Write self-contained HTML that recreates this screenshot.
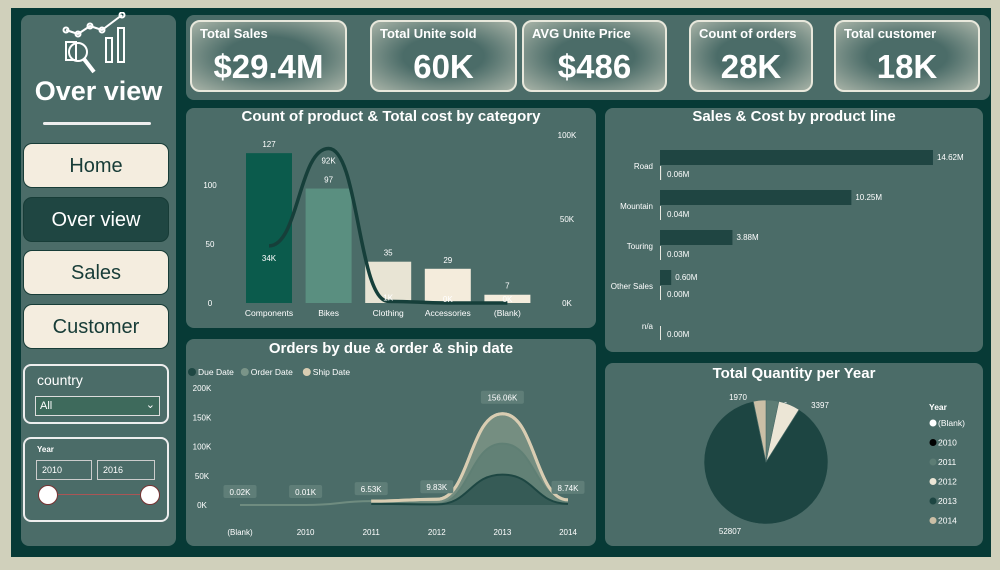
<!DOCTYPE html>
<html><head><meta charset="utf-8"><style>
*{box-sizing:border-box;margin:0;padding:0}
body{width:1000px;height:570px;background:#d0d0bb;font-family:"Liberation Sans",sans-serif;position:relative;overflow:hidden;color:#fff}
.abs{position:absolute}
.frame{left:11px;top:8px;width:980px;height:549px;background:#073a36}
.panel{background:#4b6c68;border-radius:8px}
.kpi{border:2px solid #e8e8dc;border-radius:10px;background:radial-gradient(ellipse at center,#4b6c68 40%,#a9b4a8 100%);}
.kpi .t{position:absolute;left:8px;top:4px;font-size:13px;font-weight:bold}
.kpi .v{position:absolute;left:0;right:0;top:26px;text-align:center;font-size:33px;font-weight:bold}
.btn{left:23px;width:146px;height:45px;border-radius:9px;background:#f4eddf;border:1px solid #173c37;color:#173c37;font-size:20px;text-align:center;line-height:44px}
.ttl{font-size:15px;font-weight:bold;text-align:center;position:absolute;left:0;right:0}
svg text{font-family:"Liberation Sans",sans-serif;fill:#fff}
</style></head><body>
<div class="abs frame"></div>
<div class="abs panel" style="left:21px;top:15px;width:155px;height:531px"></div>
<svg class="abs" style="left:60px;top:12px" width="72" height="68">
<g fill="none" stroke="#fff" stroke-width="2"><polyline points="6,18 18,22 30,14 42,18 62,3"/><circle cx="6" cy="18" r="2.5"/><circle cx="18" cy="22" r="2.5"/><circle cx="30" cy="14" r="2.5"/><circle cx="42" cy="18" r="2.5"/><circle cx="62" cy="3" r="2.5"/><rect x="6" y="30" width="10" height="18"/><rect x="46" y="26" width="6" height="24"/><rect x="58" y="16" width="6" height="34"/><circle cx="18" cy="40" r="9"/><line x1="24" y1="47" x2="34" y2="60" stroke-width="4"/></g></svg>
<div class="abs" style="left:21px;top:76px;width:155px;text-align:center;font-size:27px;font-weight:bold">Over view</div>
<div class="abs" style="left:43px;top:122px;width:108px;height:3px;background:#eee;border-radius:2px"></div>
<div class="abs btn" style="top:143px">Home</div>
<div class="abs btn" style="top:197px;background:#1f4642;color:#fff">Over view</div>
<div class="abs btn" style="top:250px">Sales</div>
<div class="abs btn" style="top:304px">Customer</div>
<div class="abs" style="left:23px;top:364px;width:146px;height:60px;border:2px solid #eee;border-radius:8px">
<div class="abs" style="left:12px;top:6px;font-size:14px">country</div>
<div class="abs" style="left:10px;top:30px;width:125px;height:20px;border:1px solid #ddd;background:#3e6a5c;font-size:11px;line-height:19px;padding-left:4px">All<span style="position:absolute;right:4px;top:-1px">⌄</span></div></div>
<div class="abs" style="left:23px;top:437px;width:146px;height:85px;border:2px solid #eee;border-radius:8px">
<div class="abs" style="left:12px;top:6px;font-size:8px;font-weight:bold">Year</div>
<div class="abs" style="left:11px;top:21px;width:56px;height:20px;border:1px solid #ccc;font-size:9px;line-height:19px;padding-left:5px">2010</div>
<div class="abs" style="left:72px;top:21px;width:58px;height:20px;border:1px solid #ccc;font-size:9px;line-height:19px;padding-left:5px">2016</div>
<div class="abs" style="left:24px;top:55px;width:100px;height:1px;background:#a55"></div>
<div class="abs" style="left:13px;top:46px;width:20px;height:20px;border-radius:50%;background:#fff;border:1px solid #733"></div>
<div class="abs" style="left:115px;top:46px;width:20px;height:20px;border-radius:50%;background:#fff;border:1px solid #733"></div></div>

<div class="abs panel" style="left:186px;top:15px;width:804px;height:85px"></div>
<div class="abs kpi" style="left:190px;top:20px;width:157px;height:72px"><div class="t">Total Sales</div><div class="v">$29.4M</div></div>
<div class="abs kpi" style="left:370px;top:20px;width:147px;height:72px"><div class="t">Total Unite sold</div><div class="v">60K</div></div>
<div class="abs kpi" style="left:522px;top:20px;width:145px;height:72px"><div class="t">AVG Unite Price</div><div class="v">$486</div></div>
<div class="abs kpi" style="left:689px;top:20px;width:124px;height:72px"><div class="t">Count of orders</div><div class="v">28K</div></div>
<div class="abs kpi" style="left:834px;top:20px;width:146px;height:72px"><div class="t">Total customer</div><div class="v">18K</div></div>

<div class="abs panel" style="left:186px;top:108px;width:410px;height:220px"><div class="ttl" style="top:0px">Count of product &amp; Total cost by category</div></div>
<div class="abs panel" style="left:605px;top:108px;width:378px;height:244px"><div class="ttl" style="top:0px">Sales &amp; Cost by product line</div></div>
<div class="abs panel" style="left:186px;top:339px;width:410px;height:207px"><div class="ttl" style="top:1px">Orders by due &amp; order &amp; ship date</div></div>
<div class="abs panel" style="left:605px;top:363px;width:378px;height:183px"><div class="ttl" style="top:2px">Total Quantity per Year</div></div>

<svg class="abs" style="left:0;top:0" width="1000" height="570" id="charts"></svg>
<script>
const NS='http://www.w3.org/2000/svg';const root=document.getElementById('charts');
function mk(tag,at,parent){const e=document.createElementNS(NS,tag);for(const k in at)e.setAttribute(k,at[k]);(parent||root).appendChild(e);return e;}
function tx(x,y,s,size,anchor,extra){const e=mk('text',Object.assign({x:x,y:y,'font-size':size||9,'text-anchor':anchor||'middle'},extra||{}));e.textContent=s;return e;}
function smooth(pts){let d='M'+pts[0][0]+','+pts[0][1];for(let i=1;i<pts.length;i++){const p=pts[i-1],q=pts[i],m=(q[0]-p[0])/2;d+=' C'+(p[0]+m)+','+p[1]+' '+(q[0]-m)+','+q[1]+' '+q[0]+','+q[1];}return d;}

// Chart 1
const catNames=['Components','Bikes','Clothing','Accessories','(Blank)'];
const catCounts=[127,97,35,29,7];
const catCost=[34,92,1,0,0];
const catCostLabels=['34K','92K','1K','0K','0K'];
const catColors=['#0b5b4c','#5a8f80','#e8e4d4','#f4ecdc','#f4ecdc'];
const leftTicks=[0,50,100];const rightTicks=[0,50,100];
const yL=v=>303-v*1.18, yR=v=>303-v*1.68, xC=i=>246+i*59.6;
leftTicks.forEach(t=>{const e=tx(210,yL(t)+3,String(t),8);});
rightTicks.forEach(t=>{const e=tx(567,yR(t)+3,t+'K',8);});
catNames.forEach((c,i)=>{
 const r=mk('rect',{x:xC(i),y:yL(catCounts[i]),width:46,height:catCounts[i]*1.18,fill:catColors[i]});
 
 
 tx(xC(i)+23,yL(catCounts[i])-6,String(catCounts[i]),8);
 tx(xC(i)+23,316,c,8.5);
});
const cl=mk('path',{d:smooth(catCost.map((v,i)=>[xC(i)+23,yR(v)])),fill:'none',stroke:'#163f3a','stroke-width':3.5});


catCost.forEach((v,i)=>tx(xC(i)+23,yR(v)+(i<2?15:-1),catCostLabels[i],8));

// Chart 2
const plNames=['Road','Mountain','Touring','Other Sales','n/a'];
const plSales=[14.62,10.25,3.88,0.60,0];
const plCost=[0.06,0.04,0.03,0.00,0.00];
const xS=v=>660+v*18.67, rowY=i=>150+i*40;
plNames.forEach((n,i)=>{
 tx(653,rowY(i)+19,n,8,'end');
 if(plSales[i]>0){const r=mk('rect',{x:660,y:rowY(i),width:plSales[i]*18.67,height:15,fill:'#1f4542'});
 
 
 tx(xS(plSales[i])+4,rowY(i)+10,plSales[i].toFixed(2)+'M',8,'start');}
 const c=mk('rect',{x:660,y:rowY(i)+16,width:Math.max(1,plCost[i]*18.67),height:14,fill:'#e8e8e0'});
 
 
 tx(667,rowY(i)+27,plCost[i].toFixed(2)+'M',8,'start');
});

// Chart 3
const yearCats=['(Blank)','2010','2011','2012','2013','2014'];
const shipVals=[0.02,0.01,6.53,9.83,156.06,8.74];
const orderVals=[0.02,0.01,6.53,2,105,8];
const dueVals=[0.02,0.01,2,1,52,2];
const shipLabels=['0.02K','0.01K','6.53K','9.83K','156.06K','8.74K'];
const lTicks=[0,50,100,150,200];
const xY=i=>240+i*65.6, yY=v=>505-v*0.585;
lTicks.forEach(t=>{const e=tx(202,yY(t)+3,t+'K',8);});
yearCats.forEach((c,i)=>tx(xY(i),535,c,8));
const lg=[['Due Date','#1e4743'],['Order Date','#7a9488'],['Ship Date','#d9cdb2']];
let lx=188;lg.forEach(l=>{mk('circle',{cx:lx+4,cy:372,r:4,fill:l[1]});tx(lx+10,375,l[0],8.5,'start');lx+=l[0].length*4.6+16;});
function area(vals,from,fill,stroke,name){const pts=vals.map((v,i)=>[xY(i),yY(v)]).slice(from);const d=smooth(pts);
 const a=mk('path',{d:d+' L'+pts[pts.length-1][0]+','+yY(0)+' L'+pts[0][0]+','+yY(0)+'Z',fill:fill,opacity:0.85});
 
 
 const l=mk('path',{d:d,fill:'none',stroke:stroke,'stroke-width':stroke=='#d9cdb2'?3:2});
 
 }
area(orderVals,0,'none','#6f8c80','order-date-base');
area(shipVals,2,'#7d9486','#d9cdb2','ship-date');
area(orderVals,2,'#5f7f74','#5f7f74','order-date');
area(dueVals,2,'#2f5551','#1e4743','due-date');
mk('path',{d:smooth(shipVals.map((v,i)=>[xY(i),yY(v)]).slice(2)),fill:'none',stroke:'#d9cdb2','stroke-width':3});
shipLabels.forEach((s,i)=>{const w=s.length*5+8;const yy=i==4?yY(shipVals[i])-16:Math.min(yY(shipVals[i])-12,492);
 mk('rect',{x:xY(i)-w/2,y:yy-7,width:w,height:13,rx:2,fill:'#5f7e78'});tx(xY(i),yy+3,s,8);});

// Pie
const pieYears=['(Blank)','2010','2011','2012','2013','2014'];
const pieVals=[0,0,2000,3397,52807,1970];
const pieLabels=['','','19','3397','52807','1970'];
const pieColors=['#ffffff','#000000','#5d7d75','#ece6d6','#1d4542','#cbbfa6'];
const cx=766,cy=462,R=62;const tot=pieVals.reduce((a,b)=>a+b,0);let ang=-Math.PI/2;
const labPos={2:[783,408],3:[820,408],4:[730,534],5:[738,400]};
pieVals.forEach((v,i)=>{if(!v)return;const a2=ang+v/tot*2*Math.PI;
 const p=mk('path',{d:`M${cx},${cy} L${cx+R*Math.cos(ang)},${cy+R*Math.sin(ang)} A${R},${R} 0 ${a2-ang>Math.PI?1:0} 1 ${cx+R*Math.cos(a2)},${cy+R*Math.sin(a2)} Z`,fill:pieColors[i],stroke:'#4b6c68','stroke-width':0.6});
 
 
 tx(labPos[i][0],labPos[i][1],pieLabels[i],8);ang=a2;});
tx(929,410,'Year',8.5,'start',{'font-weight':'bold'});
pieYears.forEach((y,i)=>{mk('circle',{cx:933,cy:423+i*19.5,r:3.5,fill:pieColors[i]});tx(938,426+i*19.5,y,8.5,'start');});
</script>
</body></html>
